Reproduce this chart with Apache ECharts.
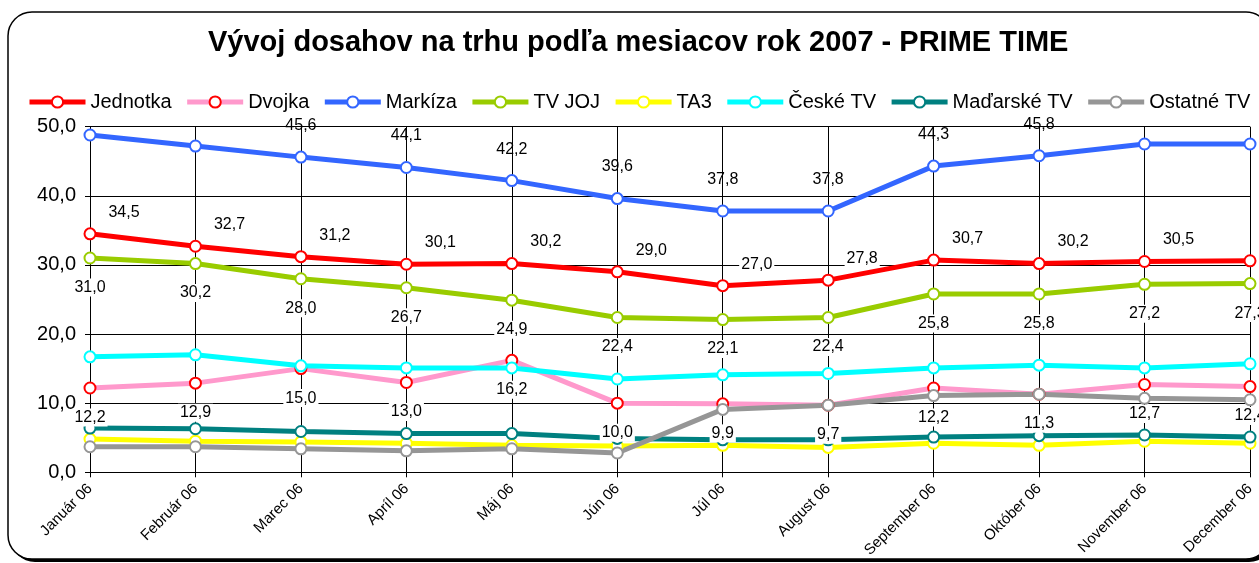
<!DOCTYPE html>
<html>
<head>
<meta charset="utf-8">
<script src="https://cdn.jsdelivr.net/npm/echarts@6/dist/echarts.min.js"></script>
<style>html,body{margin:0;padding:0;background:#fff}#c{width:1259px;height:563px}</style>
</head>
<body>
<div id="c"></div>
<script>
const categories = ['Január 06','Február 06','Marec 06','Apríl 06','Máj 06','Jún 06','Júl 06','August 06','September 06','Október 06','November 06','December 06'];
const jednotka = [34.5,32.7,31.2,30.1,30.2,29.0,27.0,27.8,30.7,30.2,30.5,30.6];
const dvojka = [12.2,12.9,15.0,13.0,16.2,10.0,9.9,9.7,12.2,11.3,12.7,12.4];
const markiza = [48.8,47.2,45.6,44.1,42.2,39.6,37.8,37.8,44.3,45.8,47.5,47.5];
const tvjoj = [31.0,30.2,28.0,26.7,24.9,22.4,22.1,22.4,25.8,25.8,27.2,27.3];
const ta3 = [4.8,4.5,4.4,4.2,3.9,3.8,3.9,3.6,4.2,3.9,4.5,4.2];
const ceskeTV = [16.7,17.0,15.4,15.1,15.1,13.5,14.1,14.3,15.1,15.5,15.1,15.7];
const madarskeTV = [6.4,6.3,5.9,5.6,5.6,4.9,4.7,4.7,5.1,5.3,5.4,5.1];
const ostatneTV = [3.7,3.7,3.4,3.1,3.4,2.8,9.1,9.7,11.1,11.3,10.7,10.5];
const yTicks = [0,10,20,30,40,50];

const fmt = v => v.toFixed(1).replace('.', ',');
const FONT = '"Liberation Sans", Arial, sans-serif';

function mk(name, data, color, markerColor, label) {
  const s = {
    name, type: 'line', data,
    symbol: 'circle', symbolSize: 11,
    lineStyle: { color, width: 5 },
    itemStyle: { color: '#fff', borderColor: markerColor || color, borderWidth: 2 },
    emphasis: { disabled: true },
    animation: false,
    label: { show: false },
    color
  };
  if (label) s.label = Object.assign({
    show: true, color: '#000', fontFamily: FONT, fontSize: 16,
    backgroundColor: '#fff', padding: [1, 2]
  }, label);
  return s;
}

const chart = echarts.init(document.getElementById('c'), null, { renderer: 'canvas' });
chart.setOption({
  backgroundColor: '#fff',
  animation: false,
  graphic: [{
    type: 'rect', z: -11, silent: true,
    shape: { x: 11, y: 15, width: 1262, height: 547, r: 24 },
    style: { fill: '#000' }
  }, {
    type: 'rect', z: -10, silent: true,
    shape: { x: 8, y: 12, width: 1262, height: 547, r: 24 },
    style: { fill: '#fff', stroke: '#000', lineWidth: 1.5 }
  }],
  title: {
    text: 'Vývoj dosahov na trhu podľa mesiacov rok 2007 - PRIME TIME',
    left: 203, top: 23,
    textStyle: { fontFamily: FONT, fontWeight: 'bold', fontSize: 29, color: '#000' }
  },
  legend: {
    left: 22, top: 87, width: 1500,
    itemWidth: 56, itemHeight: 14, itemGap: 13,
    lineStyle: { width: 5 },
    textStyle: { fontFamily: FONT, fontSize: 20, color: '#000' },
    data: ['Jednotka','Dvojka','Markíza','TV JOJ','TA3','České TV','Maďarské TV','Ostatné TV']
  },
  grid: { left: 90, right: 9, top: 126.7, bottom: 90.7, containLabel: false },
  xAxis: {
    type: 'category', data: categories, boundaryGap: false,
    axisLine: { lineStyle: { color: '#000', width: 1 } },
    axisTick: { show: true, length: 5, lineStyle: { color: '#000' } },
    axisLabel: { rotate: 45, interval: 0, fontFamily: FONT, fontSize: 15, color: '#000', margin: 14 },
    splitLine: { show: true, lineStyle: { color: '#000', width: 1 } }
  },
  yAxis: {
    type: 'value', min: yTicks[0], max: yTicks[yTicks.length - 1], interval: 10,
    axisLine: { show: true, lineStyle: { color: '#000', width: 1 } },
    axisTick: { show: true, length: 5, lineStyle: { color: '#000' } },
    axisLabel: { fontFamily: FONT, fontSize: 20, color: '#000', margin: 14, formatter: v => fmt(v) },
    splitLine: { show: true, lineStyle: { color: '#000', width: 1 } }
  },
  series: [
    mk('Jednotka', jednotka, '#ff0000', '#ff0000', { position: 'top', distance: 2, offset: [34, -4], formatter: p => fmt(p.value) }),
    mk('Dvojka', dvojka, '#ff99cc', '#ff0000', { position: 'bottom', distance: 14, formatter: p => fmt(p.value) }),
    mk('Markíza', markiza, '#3366ff', '#3366ff', { position: 'top', distance: 16, backgroundColor: 'transparent', formatter: p => p.value > 46 ? '' : fmt(p.value) }),
    mk('TV JOJ', tvjoj, '#99cc00', '#99cc00', { position: 'bottom', distance: 14, formatter: p => fmt(p.value) }),
    mk('TA3', ta3, '#ffff00', '#ffff00'),
    mk('České TV', ceskeTV, '#00ffff', '#00ffff'),
    mk('Maďarské TV', madarskeTV, '#008080', '#008080'),
    mk('Ostatné TV', ostatneTV, '#969696', '#969696')
  ]
});
</script>
</body>
</html>
